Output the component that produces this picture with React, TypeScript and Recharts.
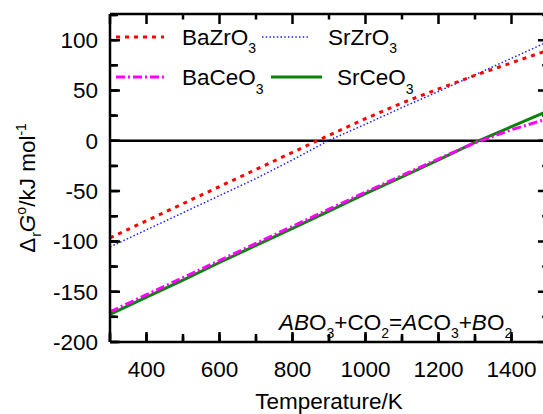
import React from 'react';
import { LineChart, Line, XAxis, YAxis, ReferenceLine, Customized } from 'recharts';

const temperatures = [300, 400, 500, 600, 700, 800, 900, 1000, 1100, 1200, 1300, 1400, 1500];
const baZrO3 = [-96.5, -79.5, -62.5, -45.5, -28.5, -11.5, 5.5, 22, 37.5, 51.5, 65, 77.5, 90];
const srZrO3 = [-105.5, -88.5, -71.5, -54.5, -37.5, -19, 0.5, 16.5, 33, 49, 65.5, 82, 98.5];
const baCeO3 = [-170, -153, -136, -119, -102, -85, -68, -51, -34.5, -18, -2, 11, 22];
const srCeO3 = [-172.5, -155.5, -138.5, -121, -104, -87, -70, -52.5, -36, -19, -1.5, 14, 29.5];

const xTicks = [300, 400, 500, 600, 700, 800, 900, 1000, 1100, 1200, 1300, 1400, 1500];
const xLabelTicks = [400, 600, 800, 1000, 1200, 1400];
const yTicks = [-200, -175, -150, -125, -100, -75, -50, -25, 0, 25, 50, 75, 100, 125];
const yLabelTicks = [-200, -150, -100, -50, 0, 50, 100];

const X_MIN = 300;
const X_MAX = 1500;
const Y_MIN = -200;
const Y_MAX = 126;

// tick lengths in axis units (~1 unit/px on y, ~2.75 K/px on x)
const X_MAJOR_LEN = 10;
const X_MINOR_LEN = 5.5;
const Y_MAJOR_LEN = 27.5;
const Y_MINOR_LEN = 16;

const isXMajor = (v: number) => xLabelTicks.includes(v) || v === X_MIN || v === X_MAX;
const isYMajor = (v: number) => yLabelTicks.includes(v);

type Row = { [k: string]: number | null };
const rows: Row[] = temperatures.map((T, i) => ({
  T,
  baZrO3: baZrO3[i],
  srZrO3: srZrO3[i],
  baCeO3: baCeO3[i],
  srCeO3: srCeO3[i],
}));
// inward tick marks: pairs of points separated by a null so each pair is its own segment
xTicks.forEach((t) => {
  const len = isXMajor(t) ? X_MAJOR_LEN : X_MINOR_LEN;
  rows.push({ T: t, tb: Y_MIN }, { T: t, tb: Y_MIN + len }, { T: t, tb: null });
});
xTicks.forEach((t) => {
  const len = isXMajor(t) ? X_MAJOR_LEN : X_MINOR_LEN;
  rows.push({ T: t, tt: Y_MAX }, { T: t, tt: Y_MAX - len }, { T: t, tt: null });
});
yTicks.forEach((t) => {
  const len = isYMajor(t) ? Y_MAJOR_LEN : Y_MINOR_LEN;
  rows.push({ T: X_MIN, tl: t }, { T: X_MIN + len, tl: t }, { T: X_MIN, tl: null });
});
yTicks.forEach((t) => {
  const len = isYMajor(t) ? Y_MAJOR_LEN : Y_MINOR_LEN;
  rows.push({ T: X_MAX, tr: t }, { T: X_MAX - len, tr: t }, { T: X_MAX, tr: null });
});

const FONT = '"Liberation Sans", Arial, Helvetica, sans-serif';
const FS = 22.5;
const SUB = 14;

const STYLES = {
  baZrO3: { stroke: '#ff0000', width: 3, dash: '4 5' },
  srZrO3: { stroke: '#1f1fff', width: 1.5, dash: '1.5 2.2' },
  baCeO3: { stroke: '#ff00ff', width: 3, dash: '9 3 2 3' },
  srCeO3: { stroke: '#0a820a', width: 3, dash: undefined as string | undefined },
};

const BottomTick = (props: any) => {
  const x = Number(props.x);
  const y = Number(props.y);
  const v = props.payload.value;
  if (!xLabelTicks.includes(v)) return <g />;
  return (
    <text x={x} y={y + 35} textAnchor="middle" fontSize={FS} fontFamily={FONT} fill="#000" stroke="none">
      {v}
    </text>
  );
};

const LeftTick = (props: any) => {
  const x = Number(props.x);
  const y = Number(props.y);
  const v = props.payload.value;
  if (!isYMajor(v)) return <g />;
  return (
    <text x={x - 12} y={y + 8} textAnchor="end" fontSize={FS} fontFamily={FONT} fill="#000" stroke="none">
      {v}
    </text>
  );
};

const Overlay = () => (
  <g fontFamily={FONT} fill="#000">
    <line x1={116} x2={164} y1={37} y2={37} stroke={STYLES.baZrO3.stroke} strokeWidth={STYLES.baZrO3.width} strokeDasharray={STYLES.baZrO3.dash} />
    <text x={182} y={45} fontSize={FS}>BaZrO<tspan dy={8} fontSize={SUB}>3</tspan></text>
    <line x1={262} x2={310} y1={37} y2={37} stroke={STYLES.srZrO3.stroke} strokeWidth={STYLES.srZrO3.width} strokeDasharray={STYLES.srZrO3.dash} />
    <text x={328} y={45} fontSize={FS}>SrZrO<tspan dy={8} fontSize={SUB}>3</tspan></text>
    <line x1={116} x2={167} y1={77} y2={77} stroke={STYLES.baCeO3.stroke} strokeWidth={STYLES.baCeO3.width} strokeDasharray={STYLES.baCeO3.dash} />
    <text x={182} y={85} fontSize={FS}>BaCeO<tspan dy={9} fontSize={SUB}>3</tspan></text>
    <line x1={271} x2={322} y1={77} y2={77} stroke={STYLES.srCeO3.stroke} strokeWidth={STYLES.srCeO3.width} />
    <text x={337} y={85} fontSize={FS}>SrCeO<tspan dy={9} fontSize={SUB}>3</tspan></text>

    <text x={279} y={330} fontSize={FS}>
      <tspan fontStyle="italic">AB</tspan>O<tspan dy={8} fontSize={SUB}>3</tspan>
      <tspan dy={-8}>+CO</tspan><tspan dy={8} fontSize={SUB}>2</tspan>
      <tspan dy={-8}>=</tspan><tspan fontStyle="italic">A</tspan>CO<tspan dy={8} fontSize={SUB}>3</tspan>
      <tspan dy={-8}>+</tspan><tspan fontStyle="italic">B</tspan>O<tspan dy={8} fontSize={SUB}>2</tspan>
    </text>

    <text x={35} y={188} transform="rotate(-90 35 188)" textAnchor="middle" fontSize={FS}>
      Δ<tspan dx={1} dy={6} fontSize={SUB}>r</tspan>
      <tspan dy={-6} fontStyle="italic">G</tspan>
      <tspan dy={-9} fontSize={SUB}>o</tspan>
      <tspan dy={9}>/kJ mol</tspan>
      <tspan dy={-9} fontSize={SUB}>-1</tspan>
    </text>

    <text x={329} y={409} textAnchor="middle" fontSize={FS}>Temperature/K</text>
  </g>
);

const tickSeries = { stroke: '#000', strokeWidth: 2.5, dot: false, activeDot: false, connectNulls: false, isAnimationActive: false, legendType: 'none' as const, type: 'linear' as const };

export default function App() {
  return (
    <div style={{ position: 'absolute', left: 0, top: 0, width: 543, height: 414, overflow: 'hidden', background: '#fff' }}>
      <LineChart width={550} height={414} data={rows} margin={{ top: 14, right: 2, left: 0, bottom: 0 }}>
        <XAxis
          xAxisId={0}
          dataKey="T"
          type="number"
          domain={[X_MIN, X_MAX]}
          ticks={xTicks}
          interval={0}
          height={72}
          tickSize={-8}
          tickMargin={8}
          tickLine={{ stroke: '#000', strokeWidth: 2.5 }}
          axisLine={{ stroke: '#000', strokeWidth: 2.5 }}
          tick={BottomTick}
        />
        <XAxis
          xAxisId="top"
          orientation="top"
          dataKey="T"
          type="number"
          domain={[X_MIN, X_MAX]}
          ticks={xTicks}
          interval={0}
          height={1}
          tickSize={0}
          tickMargin={0}
          tickLine={false}
          tick={false}
          mirror
          axisLine={{ stroke: '#000', strokeWidth: 2.5 }}
        />
        <YAxis
          yAxisId={0}
          type="number"
          domain={[Y_MIN, Y_MAX]}
          ticks={yTicks}
          interval={0}
          width={110}
          tickSize={-8}
          tickMargin={8}
          tickLine={{ stroke: '#000', strokeWidth: 2.5 }}
          axisLine={{ stroke: '#000', strokeWidth: 2.5 }}
          tick={LeftTick}
        />
        <YAxis
          yAxisId="right"
          orientation="right"
          type="number"
          domain={[Y_MIN, Y_MAX]}
          ticks={yTicks}
          interval={0}
          width={1}
          tickSize={0}
          tickMargin={0}
          tickLine={false}
          tick={false}
          mirror
          axisLine={{ stroke: '#000', strokeWidth: 2.5 }}
        />
        <ReferenceLine y={0} stroke="#000" strokeWidth={2.5} />
        <Line dataKey="tb" {...tickSeries} />
        <Line dataKey="tt" {...tickSeries} />
        <Line dataKey="tl" {...tickSeries} />
        <Line dataKey="tr" {...tickSeries} />
        <Line dataKey="srZrO3" type="linear" connectNulls stroke={STYLES.srZrO3.stroke} strokeWidth={STYLES.srZrO3.width} strokeDasharray={STYLES.srZrO3.dash} dot={false} activeDot={false} isAnimationActive={false} />
        <Line dataKey="baZrO3" type="linear" connectNulls stroke={STYLES.baZrO3.stroke} strokeWidth={STYLES.baZrO3.width} strokeDasharray={STYLES.baZrO3.dash} dot={false} activeDot={false} isAnimationActive={false} />
        <Line dataKey="srCeO3" type="linear" connectNulls stroke={STYLES.srCeO3.stroke} strokeWidth={STYLES.srCeO3.width} dot={false} activeDot={false} isAnimationActive={false} />
        <Line dataKey="baCeO3" type="linear" connectNulls stroke={STYLES.baCeO3.stroke} strokeWidth={STYLES.baCeO3.width} strokeDasharray={STYLES.baCeO3.dash} dot={false} activeDot={false} isAnimationActive={false} />
        <Customized component={Overlay} />
      </LineChart>
    </div>
  );
}
